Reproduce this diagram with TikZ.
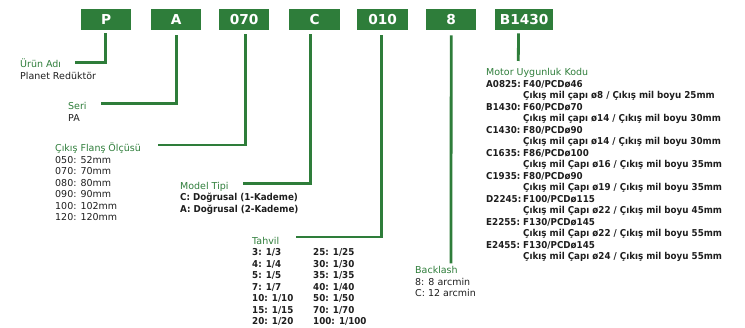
\documentclass[tikz,border=0pt]{standalone}
\usepackage{fontspec}
\setmainfont{DejaVu Sans}[BoldFeatures={FakeStretch=0.92}]
\newfontfamily\boxfont{DejaVu Sans}
\usepackage{array}
\definecolor{grn}{RGB}{46,125,58}
\definecolor{txt}{RGB}{30,30,30}
\begin{document}
\begin{tikzpicture}[x=1pt,y=-1pt,
  box/.style={fill=grn,text=white,font=\boxfont\bfseries\fontsize{13.7}{14}\selectfont,inner sep=0pt,minimum height=21pt,anchor=north west},
  conn/.style={draw=grn,line width=2.8pt},
  blk/.style={anchor=base west,inner sep=0pt,text=txt,font=\fontsize{9.5}{11.5}\selectfont}]
\useasboundingbox (0,0) rectangle (745,328);
% code boxes
\node[box,minimum width=50pt] (bP) at (81,9) {P};
\node[box,minimum width=50pt] (bA) at (151,9) {A};
\node[box,minimum width=50pt] (b070) at (219,9) {070};
\node[box,minimum width=51pt] (bC) at (289,9) {C};
\node[box,minimum width=51pt] (b010) at (357,9) {010};
\node[box,minimum width=50pt] (b8) at (426,9) {8};
\node[box,minimum width=58pt] (bB) at (495,9) {B1430};
% connector ends
\coordinate (eP) at (75,62.3);
\coordinate (eA) at (101,103.3);
\coordinate (e070) at (158.3,145);
\coordinate (eC) at (242.7,183.3);
\coordinate (e010) at (296,237);
\coordinate (e8) at (451,263.3);
\coordinate (eB) at (518.3,61);
\draw[conn] ([xshift=-0.5pt,yshift=-3pt]bP.south) |- (eP);
\draw[conn] ([xshift=0.3pt,yshift=-5pt]bA.south) |- (eA);
\draw[conn] ([xshift=1.5pt,yshift=-4pt]b070.south) |- (e070);
\draw[conn] ([xshift=-4.2pt,yshift=-4pt]bC.south) |- (eC);
\draw[conn] ([xshift=-1.2pt,yshift=-5pt]b010.south) |- (e010);
\draw[conn] ([yshift=-5pt]b8.south) -- (e8);
\draw[conn] ([xshift=-5.7pt,yshift=-3pt]bB.south) -- (eB);
% text blocks
\node[blk] (tP) at (20,68) {\begin{tabular}[t]{@{}l@{}}\color{grn}Ürün Adı\\ Planet Redüktör\end{tabular}};
\node[blk] (tA) at (68,110) {\begin{tabular}[t]{@{}l@{}}\color{grn}Seri\\ PA\end{tabular}};
\node[blk] (t070) at (55,152) {\begin{tabular}[t]{@{}l@{}}\color{grn}Çıkış Flanş Ölçüsü\\ 050: 52mm\\ 070: 70mm\\ 080: 80mm\\ 090: 90mm\\ 100: 102mm\\ 120: 120mm\end{tabular}};
\node[blk] (tC) at (180,189.5) {\begin{tabular}[t]{@{}l@{}}\color{grn}Model Tipi\\ \textbf{C: Doğrusal (1-Kademe)}\\ \textbf{A: Doğrusal (2-Kademe)}\end{tabular}};
\node[blk] (t010) at (252,244.5) {\begin{tabular}[t]{@{}>{\bfseries}p{61pt}@{}>{\bfseries}l@{}}\multicolumn{2}{@{}l@{}}{\mdseries\color{grn}Tahvil}\\
3: 1/3 & 25: 1/25\\ 4: 1/4 & 30: 1/30\\ 5: 1/5 & 35: 1/35\\ 7: 1/7 & 40: 1/40\\ 10: 1/10 & 50: 1/50\\ 15: 1/15 & 70: 1/70\\ 20: 1/20 & 100: 1/100\end{tabular}};
\node[blk] (t8) at (415,274) {\begin{tabular}[t]{@{}l@{}}\color{grn}Backlash\\ 8: 8 arcmin\\ C: 12 arcmin\end{tabular}};
\node[blk] (tB) at (486,76) {\begin{tabular}[t]{@{}>{\bfseries}p{37pt}@{}>{\bfseries}l@{}}\multicolumn{2}{@{}l@{}}{\mdseries\color{grn}Motor Uygunluk Kodu}\\
A0825: & F40/PCDø46\\ & Çıkış mil çapı ø8 / Çıkış mil boyu 25mm\\
B1430: & F60/PCDø70\\ & Çıkış mil çapı ø14 / Çıkış mil boyu 30mm\\
C1430: & F80/PCDø90\\ & Çıkış mil çapı ø14 / Çıkış mil boyu 30mm\\
C1635: & F86/PCDø100\\ & Çıkış mil Çapı ø16 / Çıkış mil boyu 35mm\\
C1935: & F80/PCDø90\\ & Çıkış mil Çapı ø19 / Çıkış mil boyu 35mm\\
D2245: & F100/PCDø115\\ & Çıkış mil Çapı ø22 / Çıkış mil boyu 45mm\\
E2255: & F130/PCDø145\\ & Çıkış mil Çapı ø22 / Çıkış mil boyu 55mm\\
E2455: & F130/PCDø145\\ & Çıkış mil Çapı ø24 / Çıkış mil boyu 55mm\end{tabular}};
\end{tikzpicture}
\end{document}
